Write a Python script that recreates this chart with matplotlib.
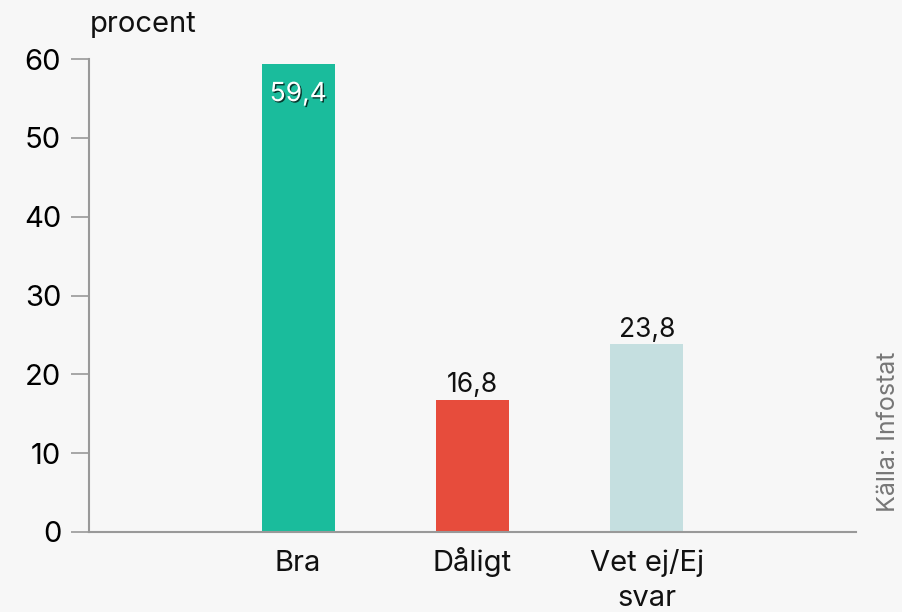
import matplotlib.pyplot as plt
import matplotlib.patheffects as pe
import matplotlib.transforms as mtransforms

categories = ["Bra", "Dåligt", "Vet ej/Ej\nsvar"]
values = [59.4, 16.8, 23.8]
labels = ["59,4", "16,8", "23,8"]
colors = ["#1abc9c", "#e74c3c", "#c5dfe0"]
yticks = [0, 10, 20, 30, 40, 50, 60]

plt.rcParams['font.family'] = ['Inter', 'DejaVu Sans']

fig = plt.figure(figsize=(9.03, 6.12), dpi=100, facecolor="#f7f7f7")
ax = fig.add_axes([89 / 903, 80 / 612, (856 - 89) / 903, (532 - 59) / 612])
ax.set_facecolor("#f7f7f7")

x = [1, 2, 3]
bars = ax.bar(x, values, width=0.42, color=colors, zorder=2)

ax.set_xlim(-0.2, 4.2)
ax.set_ylim(0, 60)
ax.set_yticks(yticks)
ax.set_xticks([])

for s in ["top", "right"]:
    ax.spines[s].set_visible(False)
for s in ["left", "bottom"]:
    ax.spines[s].set_color("#999999")
    ax.spines[s].set_linewidth(1.5)
ax.spines["bottom"].set_zorder(3)

ax.tick_params(axis="y", length=13, width=1.2, color="#999999", pad=7, labelsize=21)

# category labels, each line on its own baseline
trans = mtransforms.blended_transform_factory(ax.transData, fig.transFigure)
for xi, cat in zip(x, categories):
    for k, line in enumerate(cat.split("\n")):
        ax.text(xi, 1 - (571 + 35 * k) / 612, line, transform=trans, ha="center",
                va="baseline", fontsize=21, color="#111111")

# value labels
for i, (xi, v, lab) in enumerate(zip(x, values, labels)):
    if i == 0:
        ax.text(xi, v - 2.2, lab, ha="center", va="top", fontsize=19, color="white",
                path_effects=[pe.SimplePatchShadow(offset=(1, -1), shadow_rgbFace="black", alpha=0.7),
                              pe.Normal()])
    else:
        ax.text(xi, v + 0.9, lab, ha="center", va="baseline", fontsize=19, color="#111111")

fig.text(90 / 903, 1 - 32 / 612, "procent", fontsize=21, ha="left", va="baseline", color="#111111")
fig.text(889 / 903, 1 - 432 / 612, "Källa: Infostat", fontsize=18, rotation=90,
         ha="center", va="center", color="#777777")

fig.savefig("out.png", dpi=100, facecolor=fig.get_facecolor())
